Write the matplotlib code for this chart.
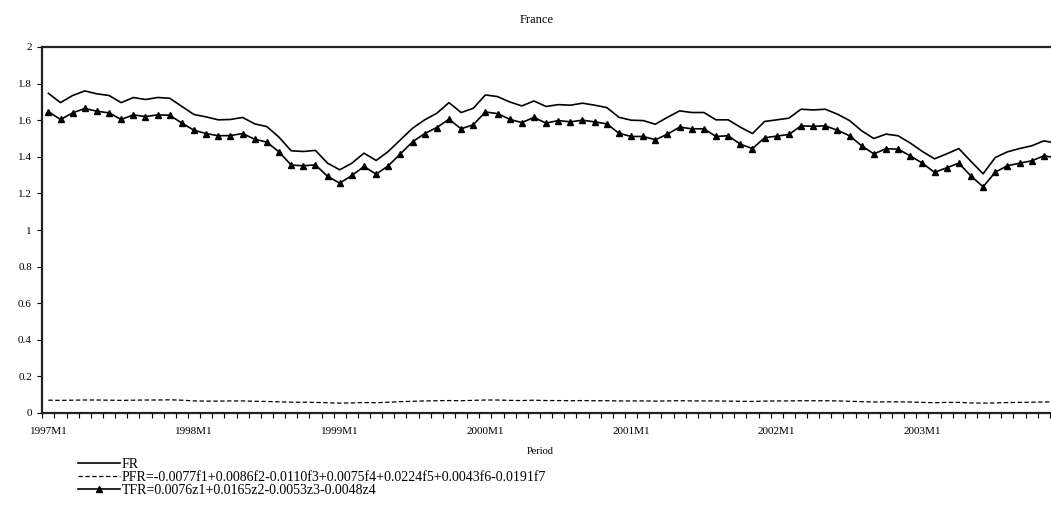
import matplotlib
matplotlib.use("Agg")
import matplotlib.pyplot as plt
import numpy as np

# monthly series, 1997M1 .. 2003M12
fr = [1.747, 1.696, 1.735, 1.760, 1.744, 1.735, 1.696, 1.724, 1.713, 1.724, 1.720, 1.675,
      1.631, 1.618, 1.602, 1.604, 1.615, 1.580, 1.565, 1.507, 1.433, 1.429, 1.435, 1.365,
      1.329, 1.365, 1.420, 1.380, 1.429, 1.493, 1.556, 1.602, 1.638, 1.696, 1.642, 1.665,
      1.738, 1.729, 1.700, 1.678, 1.705, 1.675, 1.685, 1.682, 1.693, 1.682, 1.669, 1.616,
      1.600, 1.598, 1.578, 1.616, 1.651, 1.642, 1.642, 1.602, 1.602, 1.562, 1.527, 1.593,
      1.602, 1.611, 1.660, 1.656, 1.660, 1.633, 1.598, 1.542, 1.500, 1.524, 1.515, 1.475,
      1.429, 1.389, 1.416, 1.445, 1.375, 1.307, 1.396, 1.427, 1.445, 1.460, 1.487, 1.475]

pfr = [0.070, 0.069, 0.070, 0.071, 0.071, 0.070, 0.069, 0.070, 0.071, 0.071, 0.072, 0.070,
       0.066, 0.065, 0.065, 0.066, 0.066, 0.064, 0.063, 0.061, 0.059, 0.059, 0.058, 0.056,
       0.054, 0.055, 0.057, 0.056, 0.059, 0.062, 0.064, 0.066, 0.067, 0.068, 0.067, 0.069,
       0.071, 0.071, 0.069, 0.068, 0.070, 0.068, 0.068, 0.067, 0.068, 0.067, 0.067, 0.066,
       0.066, 0.066, 0.065, 0.066, 0.067, 0.066, 0.066, 0.066, 0.065, 0.064, 0.063, 0.065,
       0.066, 0.066, 0.067, 0.067, 0.067, 0.066, 0.064, 0.062, 0.060, 0.061, 0.061, 0.060,
       0.058, 0.056, 0.058, 0.058, 0.055, 0.054, 0.055, 0.057, 0.058, 0.059, 0.060, 0.061]

tfr = [1.647, 1.604, 1.640, 1.664, 1.649, 1.640, 1.604, 1.629, 1.620, 1.629, 1.627, 1.584,
       1.545, 1.527, 1.515, 1.516, 1.527, 1.496, 1.480, 1.427, 1.355, 1.351, 1.356, 1.293,
       1.256, 1.298, 1.347, 1.305, 1.351, 1.416, 1.482, 1.527, 1.560, 1.605, 1.553, 1.575,
       1.645, 1.636, 1.605, 1.587, 1.615, 1.584, 1.598, 1.591, 1.600, 1.591, 1.580, 1.529,
       1.511, 1.511, 1.493, 1.524, 1.562, 1.553, 1.553, 1.511, 1.515, 1.469, 1.445, 1.504,
       1.513, 1.522, 1.569, 1.567, 1.569, 1.545, 1.515, 1.460, 1.416, 1.444, 1.442, 1.405,
       1.365, 1.315, 1.340, 1.365, 1.295, 1.236, 1.316, 1.351, 1.365, 1.378, 1.405, 1.395]

year_labels = ['1997M1', '1998M1', '1999M1', '2000M1', '2001M1', '2002M1', '2003M1']
y_ticks = [0, 0.2, 0.4, 0.6, 0.8, 1, 1.2, 1.4, 1.6, 1.8, 2]
y_labels = ['0', '0.2', '0.4', '0.6', '0.8', '1', '1.2', '1.4', '1.6', '1.8', '2']

fr_label = 'FR'
pfr_label = 'PFR=-0.0077f1+0.0086f2-0.0110f3+0.0075f4+0.0224f5+0.0043f6-0.0191f7'
tfr_label = 'TFR=0.0076z1+0.0165z2-0.0053z3-0.0048z4'

plt.rcParams['font.family'] = ['Liberation Serif', 'DejaVu Serif']

W, H = 1051, 515
fig = plt.figure(figsize=(W / 100, H / 100), dpi=100)
# plot area runs a bit past the right edge of the picture, as in the original
left, right, top, bottom = 42.3, 1062, 47, 413
ax = fig.add_axes([left / W, 1 - bottom / H, (right - left) / W, (bottom - top) / H])

x = np.arange(len(fr))
ax.plot(x, fr, color='black', lw=1.2, label=fr_label)
ax.plot(x, pfr, color='black', lw=0.9, dashes=(3.5, 2), label=pfr_label)
ax.plot(x, tfr, color='black', lw=1.2, marker='^', ms=4.5, label=tfr_label)

ax.set_xlim(-0.5, len(fr) - 0.5)
ax.set_ylim(0, 2)

for s in ax.spines.values():
    s.set_linewidth(1.6)
    s.set_color('#222222')

ax.set_yticks(y_ticks)
ax.set_yticklabels(y_labels, fontsize=8)
ax.tick_params(axis='y', direction='out', length=3.5, width=0.8, pad=4)

# tick marks between months, labels at each January
ax.set_xticks(np.arange(len(fr) + 1) - 0.5)
ax.set_xticklabels([])
ax.tick_params(axis='x', which='major', direction='out', length=3.5, width=0.8)
ax.set_xticks(np.arange(len(year_labels)) * 12, minor=True)
ax.set_xticklabels(year_labels, minor=True, fontsize=8)
ax.tick_params(axis='x', which='minor', length=0, pad=10)

fig.text(537 / W, 1 - 20 / H, 'France', ha='center', va='center', fontsize=9)
fig.text(540 / W, 1 - 451 / H, 'Period', ha='center', va='center', fontsize=7.5)

fig.legend(loc='upper left', bbox_to_anchor=(78 / W, 1 - 458 / H), frameon=False,
           fontsize=10, handlelength=3.0, handletextpad=0.15, labelspacing=0.0,
           borderpad=0, borderaxespad=0)

fig.savefig('out.png', dpi=100)
